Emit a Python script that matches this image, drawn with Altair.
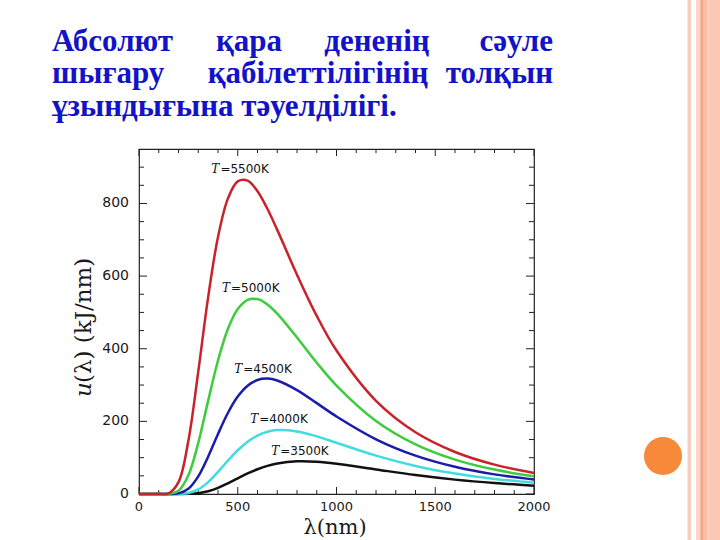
import altair as alt
import pandas as pd

# ---------------- data ----------------
lam = [0, 100, 150, 200, 250, 300, 350, 400, 450, 500, 550, 600, 650, 700,
       800, 900, 1000, 1200, 1400, 1600, 1800, 2000]

u3500 = [0, 0, 0, 0, 0.4, 2.3, 7.6, 16.8, 29.3, 43.1, 56.5, 68.2, 77.5, 84.1,
         90.2, 89.0, 83.5, 67.7, 52.2, 39.6, 30.1, 23.0]
u4000 = [0, 0, 0, 0.2, 2.9, 12.8, 32.8, 60.8, 91.7, 120.5, 144.0, 160.9, 171.2, 175.9,
         172.4, 158.8, 141.1, 105.8, 77.3, 56.4, 41.6, 31.1]
u4500 = [0, 0, 0, 1.8, 14.3, 48.5, 102.8, 165.3, 223.0, 268.2, 298.2, 313.9, 317.8, 312.7,
         286.2, 250.2, 213.5, 150.7, 105.7, 74.9, 54.0, 39.7]
u5000 = [0, 0, 0.3, 8.8, 51.4, 140.7, 256.4, 367.7, 454.2, 509.1, 534.6, 536.7, 522.1, 496.7,
         430.7, 361.5, 298.7, 201.3, 136.8, 94.8, 67.2, 48.7]
u5500 = [0, 0, 1.8, 32.7, 146.4, 336.6, 541.5, 707.6, 813.4, 861.0, 863.0, 833.8, 785.5, 727.3,
         603.9, 490.4, 395.0, 256.6, 170.0, 115.7, 80.9, 58.0]

series_T = ["3500", "4000", "4500", "5000", "5500"]
series_u = [u3500, u4000, u4500, u5000, u5500]
series_colors = ["#111111", "#40dce0", "#1c1ca8", "#3ccc3c", "#c8232a"]

label_T = ["5500", "5000", "4500", "4000", "3500"]
label_lam = [407, 461, 523, 604, 710]
label_u = [895, 567, 344, 207, 118]

x_major = [0, 500, 1000, 1500, 2000]
x_minor = [100, 200, 300, 400, 600, 700, 800, 900, 1100, 1200, 1300, 1400,
           1600, 1700, 1800, 1900]
y_major = [0, 200, 400, 600, 800]
y_minor = [50, 100, 150, 250, 300, 350, 450, 500, 550, 650, 700, 750, 850, 900]

title_words = ["Абсолют", "қара", "дененің", "сәуле",
               "шығару", "қабілеттілігінің", "толқын",
               "ұзындығына тәуелділігі."]

# ---------------- build ----------------
rows = []
for T, us in zip(series_T, series_u):
    for l, u in zip(lam, us):
        rows.append({"lam": l, "u": u, "T": T})
df = pd.DataFrame(rows)

W, H = 395, 345
OX, OY = 139, 149  # plot origin on the page

xs = alt.Scale(domain=[0, 2000], nice=False, zero=False)
ys = alt.Scale(domain=[0, 950], nice=False, zero=False)

lines = alt.Chart(df).mark_line(interpolate="catmull-rom", strokeWidth=2.5).encode(
    x=alt.X("lam:Q", scale=xs, axis=None),
    y=alt.Y("u:Q", scale=ys, axis=None),
    color=alt.Color("T:N", scale=alt.Scale(domain=series_T, range=series_colors), legend=None),
)

def xticks(vals, length):
    d = pd.DataFrame({"v": vals})
    bot = alt.Chart(d).mark_rule(color="#222", strokeWidth=1).encode(
        x=alt.X("v:Q", scale=xs, axis=None), y=alt.value(H), y2=alt.value(H - length))
    top = alt.Chart(d).mark_rule(color="#222", strokeWidth=1).encode(
        x=alt.X("v:Q", scale=xs, axis=None), y=alt.value(0), y2=alt.value(length))
    return [bot, top]

def yticks(vals, length):
    d = pd.DataFrame({"v": vals})
    left = alt.Chart(d).mark_rule(color="#222", strokeWidth=1).encode(
        y=alt.Y("v:Q", scale=ys, axis=None), x=alt.value(0), x2=alt.value(length))
    right = alt.Chart(d).mark_rule(color="#222", strokeWidth=1).encode(
        y=alt.Y("v:Q", scale=ys, axis=None), x=alt.value(W), x2=alt.value(W - length))
    return [left, right]

ticks = xticks(x_major, 7) + xticks(x_minor, 4) + yticks(y_major, 8) + yticks(y_minor, 5)

# tick labels
xl = alt.Chart(pd.DataFrame({"v": x_major})).mark_text(
    font="DejaVu Sans", fontSize=13, align="center", baseline="top", color="#1a1a1a").encode(
    x=alt.X("v:Q", scale=xs, axis=None), y=alt.value(H + 7), text=alt.Text("v:Q"))
yl = alt.Chart(pd.DataFrame({"v": y_major})).mark_text(
    font="DejaVu Sans", fontSize=14, align="right", baseline="middle", color="#1a1a1a").encode(
    y=alt.Y("v:Q", scale=ys, axis=None), x=alt.value(-10), text=alt.Text("v:Q"))

lab_df = pd.DataFrame({"lam": label_lam, "u": label_u,
                       "txt": ["=" + t + "K" for t in label_T]})
lab_T = alt.Chart(lab_df).mark_text(text="T", font="DejaVu Serif", fontStyle="italic",
                                    fontSize=12, align="right", baseline="middle",
                                    color="#111").encode(
    x=alt.X("lam:Q", scale=xs, axis=None), y=alt.Y("u:Q", scale=ys, axis=None))
lab_rest = alt.Chart(lab_df).mark_text(font="DejaVu Sans", fontSize=12, align="left",
                                       baseline="middle", dx=1, color="#111").encode(
    x=alt.X("lam:Q", scale=xs, axis=None), y=alt.Y("u:Q", scale=ys, axis=None),
    text="txt:N")

one = pd.DataFrame({"a": [0]})

def txt(text, x, y, **kw):
    return alt.Chart(one).mark_text(text=text, **kw).encode(
        x=alt.value(x - OX), y=alt.value(y - OY))

# axis titles
xtitle = txt("λ(nm)", 335, 534, font="DejaVu Serif", fontSize=21, align="center",
             baseline="alphabetic", color="#1a1a1a")
ytitle_u = txt("u", 84, 397, font="DejaVu Serif", fontStyle="italic", fontSize=23,
               angle=270, align="left", baseline="middle", color="#1a1a1a")
ytitle_rest = txt("(λ)  (kJ/nm)", 84, 383, font="DejaVu Serif", fontSize=23,
                  angle=270, align="left", baseline="middle", color="#1a1a1a")

# slide title (justified lines)
tstyle = dict(font="Liberation Serif", fontWeight="bold", fontSize=31, color="#1212c8",
              baseline="alphabetic")
title_layout = [("left", 52, 51), ("center", 249, 51), ("center", 377, 51), ("right", 553, 51),
                ("left", 52, 83), ("center", 318, 83), ("right", 553, 83),
                ("left", 52, 116)]
title_marks = [txt(w, x, y, align=a, **tstyle) for w, (a, x, y) in zip(title_words, title_layout)]

# slide decoration
def stripe(x1, x2, color):
    return alt.Chart(one).mark_rect(color=color).encode(
        x=alt.value(x1 - OX), x2=alt.value(x2 - OX), y=alt.value(-OY), y2=alt.value(540 - OY))

deco = [stripe(687.5, 691, "#f6cfbf"),
        stripe(696, 720, "#fcc8b4"),
        stripe(696, 700.5, "#fdd6c7"),
        stripe(700.5, 703.5, "#f0a98f"),
        stripe(703.5, 707, "#fbbfa8"),
        stripe(707, 710, "#fdd0bf")]
circle = alt.Chart(one).mark_circle(color="#f7893a", opacity=1, size=1452).encode(
    x=alt.value(663 - OX), y=alt.value(456 - OY))

chart = alt.layer(
    *deco, circle, *title_marks, xtitle, ytitle_u, ytitle_rest,
    *ticks, xl, yl, lines, lab_T, lab_rest
).properties(
    width=W, height=H,
    padding={"left": OX, "top": OY, "right": 720 - OX - W, "bottom": 540 - OY - H},
    autosize="none", background="white",
).configure_view(stroke="#222", strokeWidth=1.2)

chart.save("out.html", embed_options={"renderer": "svg", "actions": False})
